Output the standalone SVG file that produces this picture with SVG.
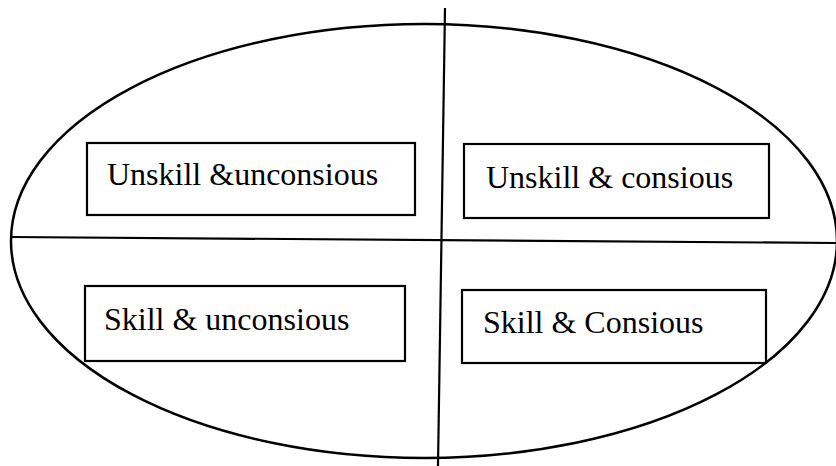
<svg xmlns="http://www.w3.org/2000/svg" width="836" height="466" viewBox="0 0 836 466">
<style>
.box{fill:none;stroke:#000;stroke-width:2.2}
.lbl{font-family:"Liberation Serif","Times New Roman",serif;font-size:32px;fill:#000}
.ln{stroke:#000;stroke-width:2.2;fill:none}
</style>
<rect width="836" height="466" fill="#fff"/>
<g id="outline">
<ellipse cx="424" cy="241" rx="413" ry="217" fill="none" stroke="#000" stroke-width="2.5"/>
</g>
<g id="connectors">
<line class="ln" x1="445" y1="8" x2="438" y2="466"/>
<line class="ln" x1="11" y1="237" x2="836" y2="243"/>
</g>
<g id="node-unskill-unconsious">
<rect class="box" x="87" y="143" width="328" height="72"/>
<text class="lbl" x="107" y="185">Unskill &amp;unconsious</text>
</g>
<g id="node-unskill-consious">
<rect class="box" x="464" y="144" width="305" height="74"/>
<text class="lbl" x="486" y="188">Unskill &amp; consious</text>
</g>
<g id="node-skill-unconsious">
<rect class="box" x="85" y="286" width="320" height="75"/>
<text class="lbl" x="104" y="330">Skill &amp; unconsious</text>
</g>
<g id="node-skill-consious">
<rect class="box" x="462" y="290" width="304" height="73"/>
<text class="lbl" x="483" y="333">Skill &amp; Consious</text>
</g>
</svg>
